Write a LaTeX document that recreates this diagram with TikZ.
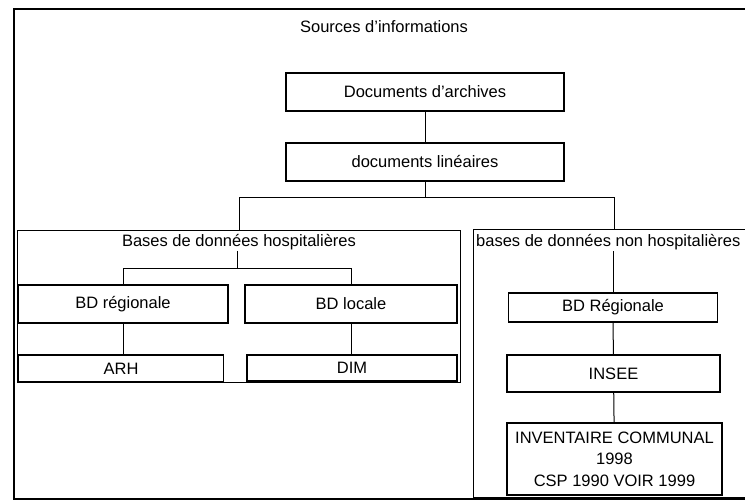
\documentclass[tikz,border=0pt]{standalone}
\usepackage{fontspec}
\setmainfont{Liberation Sans}
\usepackage{xcolor}
\tikzstyle{box}=[draw, rectangle, line width=1.6pt, inner sep=0pt, font=\fontsize{16.5}{21.5}\selectfont]
\tikzstyle{group}=[draw, rectangle, line width=1.3pt, inner sep=0pt]
\tikzset{link/.style={line width=1pt}}
\tikzset{caption/.style={inner sep=1pt, font=\fontsize{16.5}{19}\selectfont}}

\begin{document}
\begin{tikzpicture}[x=1pt,y=-1pt]
  \useasboundingbox (0,0) rectangle (745,500);
  \clip (0,0) rectangle (745,500);

  %% Frame and the two groups
  \draw (13,8) node[group,anchor=north west,minimum width=750pt,minimum height=490pt,line width=1.8pt] (frame) {};
  \draw (17,230) node[group,anchor=north west,minimum width=443pt,minimum height=152pt] (hosp) {};
  \draw (473,229) node[group,anchor=north west,minimum width=282pt,minimum height=268pt] (nonhosp) {};

  \draw (384,27) node[caption] (title) {Sources d'informations};
  \draw (239,242) node[caption] (hosplabel) {Bases de données hospitalières};
  \draw (475,242) node[caption,anchor=west] (nonhosplabel) {bases de données non hospitalières};

  %% Top of the tree
  \draw (425,92) node[box,minimum width=278pt,minimum height=38pt] (archives) {Documents d'archives};
  \draw (425,162) node[box,minimum width=278pt,minimum height=38pt] (lineaires) {documents linéaires};
  \coordinate (split) at (425,198);

  \draw[link] (archives) -- (lineaires);
  \draw[link] (lineaires) -- (split);
  \draw[link] (split) -| (hosp.north);
  \draw[link] (split) -| (nonhosp.north);

  %% Hospital databases
  \draw (123,304) node[box,minimum width=210pt,minimum height=38pt] (bdreg) {BD régionale};
  \draw (351,304) node[box,minimum width=212pt,minimum height=38pt] (bdloc) {BD locale};
  \draw (121,368.5) node[box,minimum width=205pt,minimum height=27pt] (arh) {ARH};
  \draw (352,368) node[box,minimum width=210pt,minimum height=26pt] (dim) {DIM};
  \coordinate (hsplit) at (237,268);

  \draw[link] (hosplabel.south -| hsplit) -- (hsplit);
  \draw[link] (hsplit) -| (bdreg.north);
  \draw[link] (hsplit) -| (bdloc.north);
  \draw[link] (bdreg.south) -- (bdreg.south |- arh.north);
  \draw[link] (bdloc.south) -- (bdloc.south |- dim.north);

  %% Non hospital databases
  \draw (613,307.5) node[box,minimum width=209pt,minimum height=29pt] (bdregionale) {BD Régionale};
  \draw (613.5,373.5) node[box,minimum width=213pt,minimum height=37pt] (insee) {INSEE};
  \draw (614.5,459) node[box,minimum width=215pt,minimum height=72pt,align=center] (inventaire) {INVENTAIRE COMMUNAL\\1998\\CSP 1990 VOIR 1999};

  \draw[link] (bdregionale.north) -- (bdregionale.north |- nonhosplabel.south);
  \draw[link] (bdregionale) -- (insee);
  \draw[link] (insee) -- (inventaire);
\end{tikzpicture}
\end{document}
